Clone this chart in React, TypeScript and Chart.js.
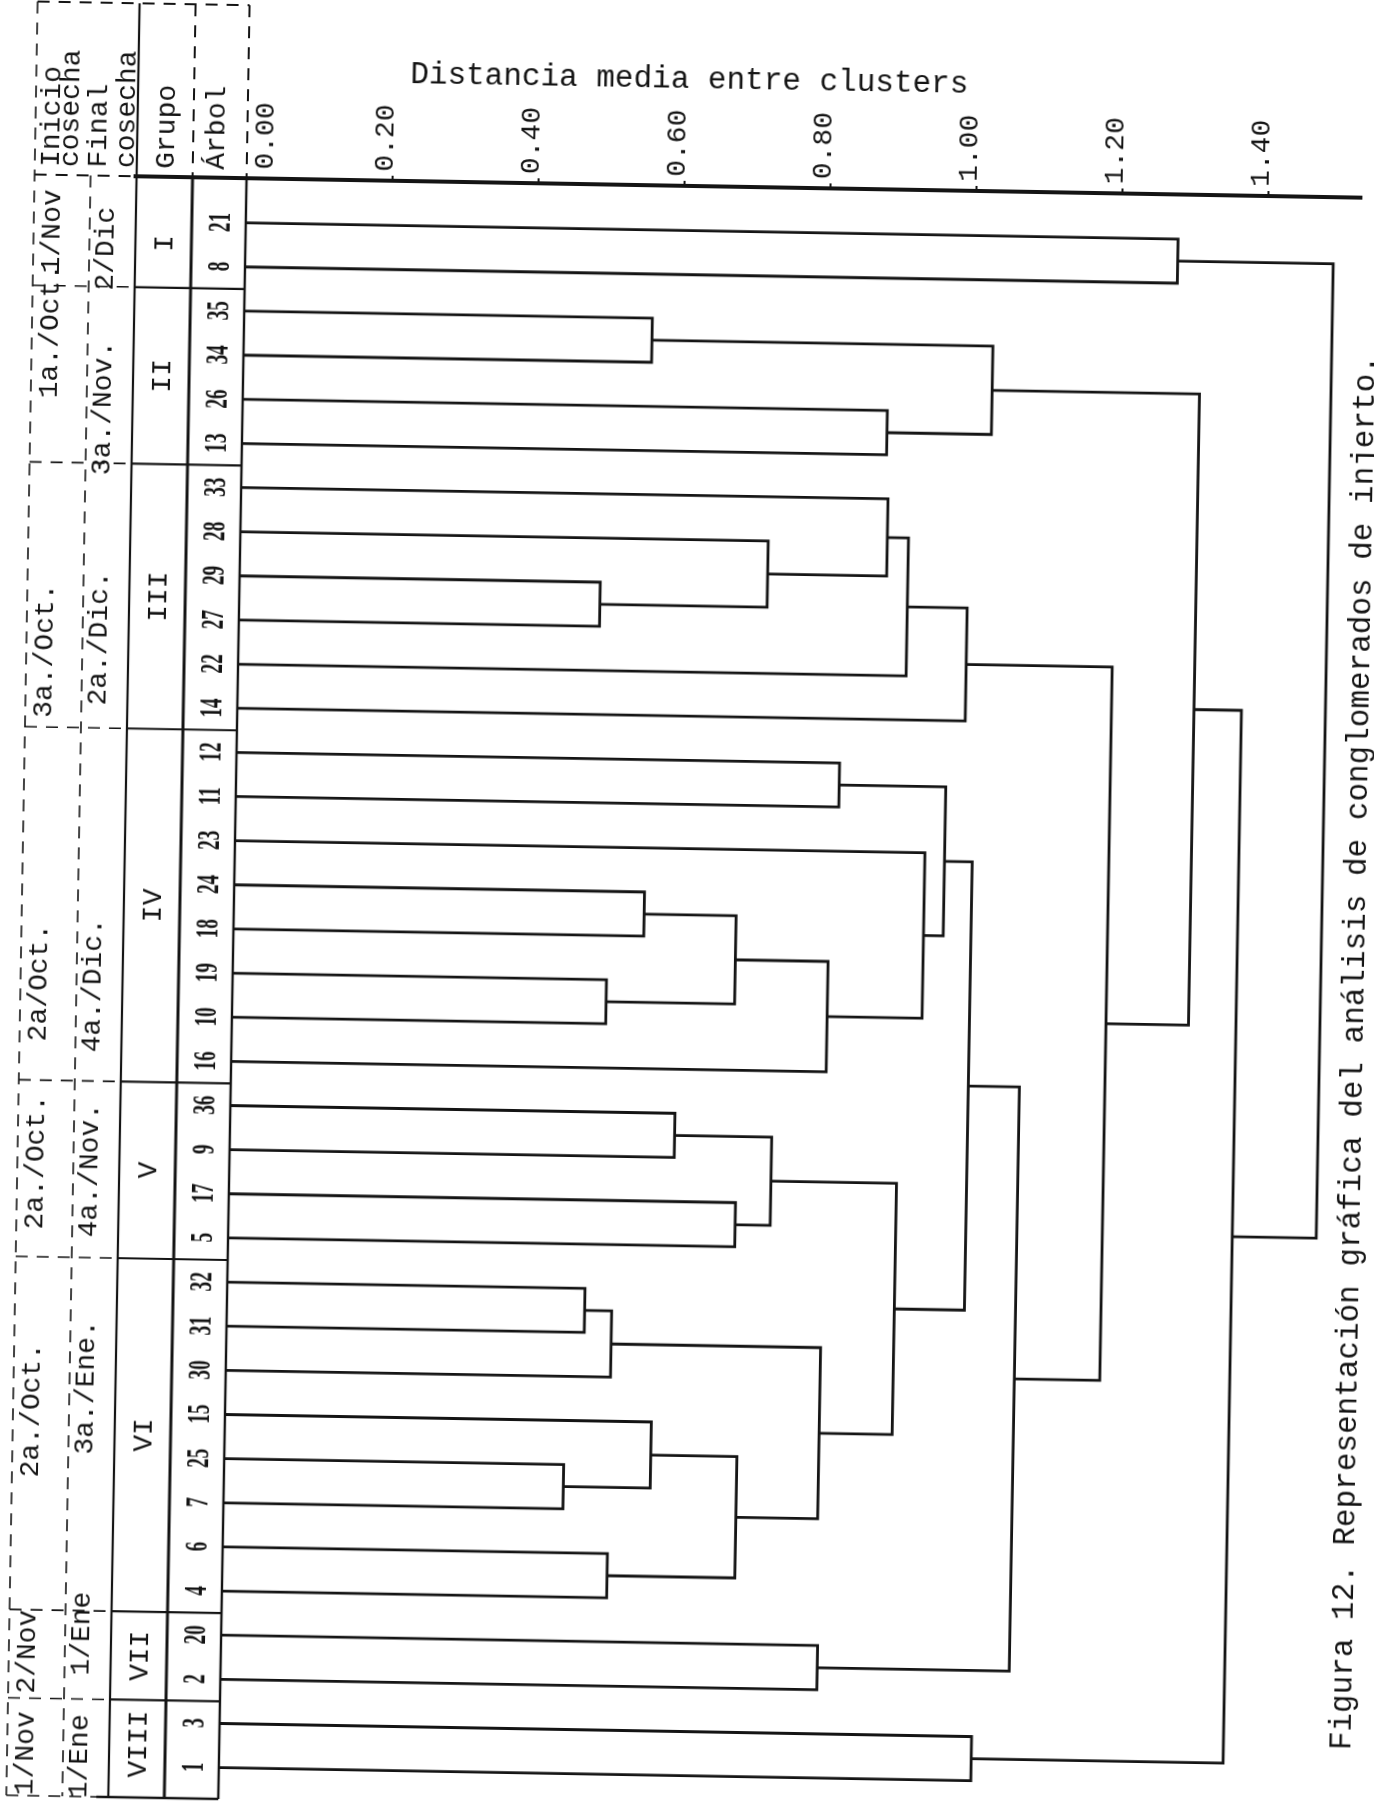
import React, { useEffect, useRef } from 'react';
import { Chart, registerables } from 'chart.js';

Chart.register(...registerables);

// ---------------- DATA ----------------
const leafLabels = ['21', '8', '35', '34', '26', '13', '33', '28', '29', '27', '22', '14', '12', '11', '23', '24', '18', '19', '10', '16', '36', '9', '17', '5', '32', '31', '30', '15', '25', '7', '6', '4', '20', '2', '3', '1'];

// merge k creates node "n{k+1}"; children are leaf labels or earlier nodes
const mergeLeft = ['21', '35', '26', 'n2', '29', '28', '33', 'n7', 'n8', '12', '24', '19', 'n11', 'n13', '23', 'n10', '36', '17', 'n17', '32', 'n20', '25', '15', '6', 'n23', 'n21', 'n19', 'n16', '20', 'n28', 'n9', 'n4', '3', 'n32', 'n1'];
const mergeRight = ['8', '34', '13', 'n3', '27', 'n5', 'n6', '22', '14', '11', '18', '10', 'n12', '16', 'n14', 'n15', '9', '5', 'n18', '31', '30', '7', 'n22', '4', 'n24', 'n25', 'n26', 'n27', '2', 'n29', 'n30', 'n31', '1', 'n33', 'n34'];
const mergeHeights = [1.277, 0.559, 0.883, 1.026, 0.494, 0.723, 0.886, 0.915, 0.997, 0.826, 0.562, 0.512, 0.688, 0.815, 0.945, 0.972, 0.609, 0.694, 0.742, 0.49, 0.527, 0.465, 0.584, 0.527, 0.702, 0.814, 0.914, 1.01, 0.817, 1.08, 1.197, 1.31, 1.03, 1.375, 1.49];

const groupNames = ['I', 'II', 'III', 'IV', 'V', 'VI', 'VII', 'VIII'];
const groupSizes = [2, 4, 6, 8, 4, 8, 2, 2];
const inicioCosecha = ['1/Nov', '1a./Oct.', '3a./Oct.', '2a/Oct.', '2a./Oct.', '2a./Oct.', '2/Nov', '1/Nov'];
const finalCosecha = ['2/Dic', '3a./Nov.', '2a./Dic.', '4a./Dic.', '4a./Nov.', '3a./Ene.', '1/Ene', '1/Ene'];

const tickValues = [0, 0.2, 0.4, 0.6, 0.8, 1.0, 1.2, 1.4];
const axisTitle = 'Distancia media entre clusters';
const headerTexts = ['Inicio', 'cosecha', 'Final', 'cosecha', 'Grupo', 'Árbol'];
const caption = 'Figura 12. Representación gráfica del análisis de conglomerados de injerto.';

// ---------------- LAYOUT / STYLE ----------------
const W = 1374;
const H = 1830;
const MONO = '"Liberation Mono", "DejaVu Sans Mono", monospace';
const SERIF = '"Liberation Serif", "DejaVu Serif", serif';
const INK = '#141414';
const headerX = [39, 58, 86, 114, 154, 204];
const inicioShift = [-0.23, -0.97, 1.27, 1.79, -0.14, -0.52, -0.05, 0.25];
const finalShift = [0.14, 0.75, 0.97, 1.83, 0.02, -1.06, -0.48, 0.3];
const TICK_FONT = 28;

function buildDatasets() {
  const pos: Record<string, { x: number; y: number }> = {};
  leafLabels.forEach((l, i) => {
    pos[l] = { x: 0, y: i };
  });
  const ds: any[] = [];
  mergeHeights.forEach((h, k) => {
    const a = pos[mergeLeft[k]];
    const b = pos[mergeRight[k]];
    ds.push({
      data: [
        { x: a.x, y: a.y },
        { x: h, y: a.y },
        { x: h, y: b.y },
        { x: b.x, y: b.y },
      ],
      borderColor: INK,
      borderWidth: 2.8,
      pointRadius: 0,
      fill: false,
      tension: 0,
      borderJoinStyle: 'miter',
    });
    pos['n' + (k + 1)] = { x: h, y: (a.y + b.y) / 2 };
  });
  return ds;
}

function vText(ctx: CanvasRenderingContext2D, text: string, x: number, y: number, align: CanvasTextAlign, squeeze = 1) {
  ctx.save();
  ctx.translate(x, y);
  ctx.rotate(-Math.PI / 2);
  if (squeeze !== 1) ctx.scale(squeeze, 1);
  ctx.textAlign = align;
  ctx.textBaseline = 'middle';
  ctx.fillText(text, 0, 0);
  ctx.restore();
}

function line(ctx: CanvasRenderingContext2D, x1: number, y1: number, x2: number, y2: number, w: number, dashed = false) {
  ctx.save();
  ctx.strokeStyle = INK;
  ctx.lineWidth = w;
  if (dashed) ctx.setLineDash([12, 9]);
  ctx.beginPath();
  ctx.moveTo(x1, y1);
  ctx.lineTo(x2, y2);
  ctx.stroke();
  ctx.restore();
}

const tablePlugin = {
  id: 'dendroTable',
  afterDraw(chart: any) {
    const ctx: CanvasRenderingContext2D = chart.ctx;
    const xs = chart.scales.x;
    const ys = chart.scales.y;
    const area = chart.chartArea;
    const top = area.top;
    const bottom = area.bottom;
    const x0 = xs.getPixelForValue(0);
    const headTop = 13;
    const colL = 22;
    const colMid = 78;
    const colG = area.left + 1;
    const colA = 180;

    // frame
    line(ctx, colG, headTop, colG, bottom, 2.2);
    line(ctx, colA, headTop, colA, top, 2, true);
    line(ctx, colA, top, colA, bottom, 3);
    line(ctx, x0, headTop, x0, top, 2, true);
    line(ctx, x0, top, x0, bottom, 2.4);
    line(ctx, colL, headTop, colL, bottom, 1.6, true);
    line(ctx, colMid, top, colMid, bottom, 1.6, true);
    line(ctx, colL, headTop, x0, headTop, 2, true);
    line(ctx, colL, top, colG, top, 2, true);

    // group boundaries
    let cum = 0;
    const centers: number[] = [];
    groupSizes.forEach((s, g) => {
      const start = cum;
      cum += s;
      centers.push((start + cum - 1) / 2);
      if (g < groupSizes.length - 1) {
        const yb = ys.getPixelForValue(cum - 0.5);
        line(ctx, colG, yb, x0, yb, 2.2);
        line(ctx, colL, yb, colG, yb, 1.6, true);
      }
    });
    line(ctx, colG - 12, bottom, x0, bottom, 2.6);
    line(ctx, colL, bottom, colG - 12, bottom, 1.6, true);

    ctx.fillStyle = INK;
    // title
    ctx.save();
    ctx.font = `31px ${MONO}`;
    ctx.textAlign = 'center';
    ctx.textBaseline = 'middle';
    ctx.fillText(axisTitle, 675, 80);
    ctx.restore();

    // first tick label sits just right of the column border, as in the original
    ctx.font = `${TICK_FONT}px ${MONO}`;
    vText(ctx, Number(tickValues[0]).toFixed(2), x0 + 19, top - 9, 'left');

    // headers
    ctx.font = `28px ${MONO}`;
    headerTexts.forEach((t, i) => vText(ctx, t, headerX[i], 178, 'left'));

    // group labels and dates
    const step = Math.abs(ys.getPixelForValue(1) - ys.getPixelForValue(0));
    groupNames.forEach((gName, g) => {
      const yc = ys.getPixelForValue(centers[g]);
      ctx.font = `28px ${MONO}`;
      vText(ctx, gName, 154, yc, 'center');
      vText(ctx, inicioCosecha[g], 41, yc + inicioShift[g] * step, 'center');
      vText(ctx, finalCosecha[g], 95, yc + finalShift[g] * step, 'center');
    });

    // leaf labels
    ctx.font = `bold 32px ${SERIF}`;
    leafLabels.forEach((l, i) => vText(ctx, l, 210, ys.getPixelForValue(i), 'center', 0.6));

    // caption
    ctx.font = `31px ${MONO}`;
    vText(ctx, caption, 1357, 1041, 'center');
  },
};

export default function App() {
  const ref = useRef<HTMLCanvasElement>(null);
  useEffect(() => {
    const canvas = ref.current;
    if (!canvas) return;
    const chart = new Chart(canvas, {
      type: 'line',
      data: { datasets: buildDatasets() },
      options: {
        animation: false,
        responsive: false,
        devicePixelRatio: 1,
        layout: { padding: { top: 100, left: 123, right: 25, bottom: 23 } },
        plugins: {
          legend: { display: false },
          tooltip: { enabled: false },
          title: { display: false },
        },
        elements: { point: { radius: 0 }, line: { tension: 0 } },
        scales: {
          x: {
            type: 'linear',
            position: 'top',
            min: -0.152,
            max: 1.527,
            afterBuildTicks: (scale: any) => {
              scale.ticks = tickValues.map((v) => ({ value: v }));
            },
            afterFit: (scale: any) => {
              scale.height = 86;
            },
            ticks: {
              autoSkip: false,
              minRotation: 90,
              maxRotation: 90,
              padding: 4,
              labelOffset: 26,
              color: INK,
              font: { family: MONO, size: TICK_FONT },
              callback: (v: any) => (Math.abs(Number(v)) < 1e-9 ? '' : Number(v).toFixed(2)),
            },
            grid: {
              display: true,
              drawOnChartArea: false,
              drawTicks: true,
              tickLength: 5,
              color: INK,
              lineWidth: 2,
            },
            border: { display: true, color: INK, width: 4 },
          },
          y: {
            type: 'linear',
            reverse: true,
            min: -1.01,
            max: 35.71,
            display: false,
          },
        },
      },
      plugins: [tablePlugin],
    } as any);
    return () => chart.destroy();
  }, []);

  return (
    <div style={{ position: 'fixed', left: 0, top: 0, width: 1374, height: 1804, overflow: 'hidden', background: '#fff' }}>
      <canvas
        ref={ref}
        width={W}
        height={H}
        style={{ display: 'block', width: W, height: H, transform: 'rotate(1deg)', transformOrigin: '687px 902px' }}
      />
    </div>
  );
}
